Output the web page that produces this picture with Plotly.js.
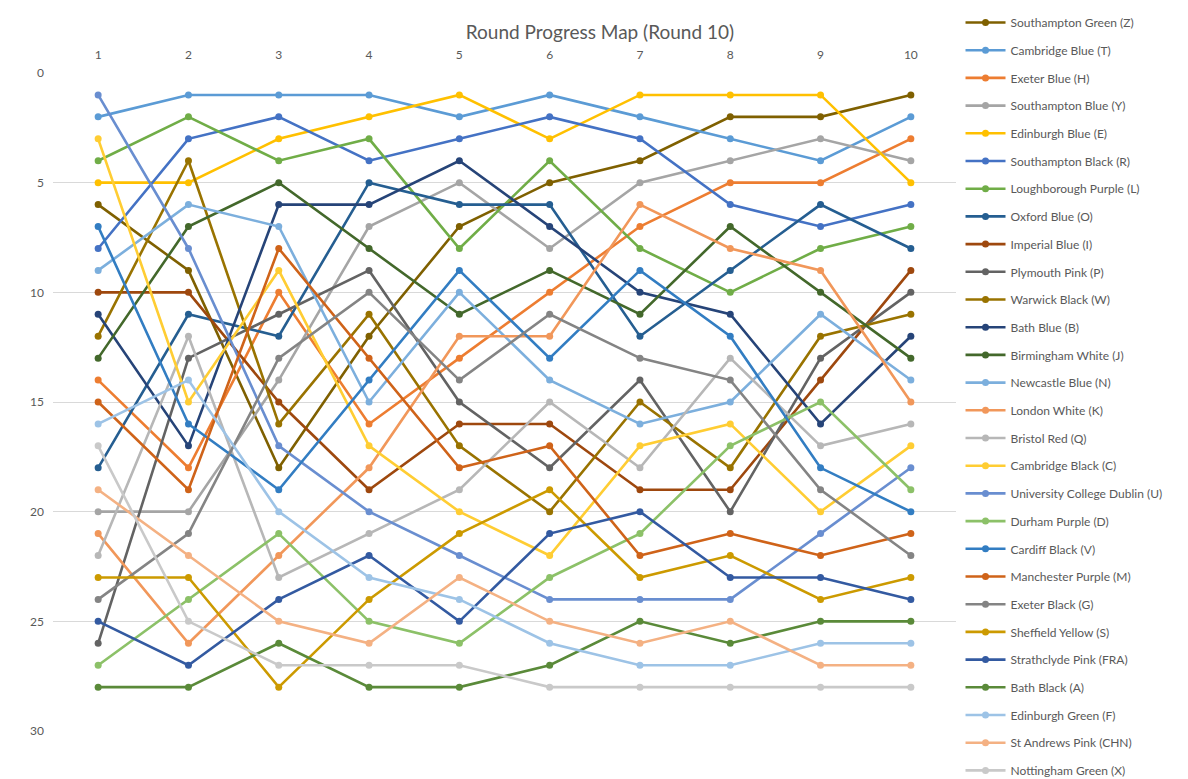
<!DOCTYPE html>
<html>
<head>
<meta charset="utf-8">
<script src="https://cdn.plot.ly/plotly-3.0.1.min.js"></script>
<style>html,body{margin:0;padding:0;background:#fff;}#chart{width:1188px;height:779px;}</style>
</head>
<body>
<div id="chart"></div>
<script>
// Rounds (x categories)
const rounds = [1, 2, 3, 4, 5, 6, 7, 8, 9, 10];

// Ranking per round for each team
const southamptonGreen   = [6, 9, 18, 12, 7, 5, 4, 2, 2, 1];
const cambridgeBlue      = [2, 1, 1, 1, 2, 1, 2, 3, 4, 2];
const exeterBlue         = [14, 18, 10, 16, 13, 10, 7, 5, 5, 3];
const southamptonBlue    = [20, 20, 14, 7, 5, 8, 5, 4, 3, 4];
const edinburghBlue      = [5, 5, 3, 2, 1, 3, 1, 1, 1, 5];
const southamptonBlack   = [8, 3, 2, 4, 3, 2, 3, 6, 7, 6];
const loughboroughPurple = [4, 2, 4, 3, 8, 4, 8, 10, 8, 7];
const oxfordBlue         = [18, 11, 12, 5, 6, 6, 12, 9, 6, 8];
const imperialBlue       = [10, 10, 15, 19, 16, 16, 19, 19, 14, 9];
const plymouthPink       = [26, 13, 11, 9, 15, 18, 14, 20, 13, 10];
const warwickBlack       = [12, 4, 16, 11, 17, 20, 15, 18, 12, 11];
const bathBlue           = [11, 17, 6, 6, 4, 7, 10, 11, 16, 12];
const birminghamWhite    = [13, 7, 5, 8, 11, 9, 11, 7, 10, 13];
const newcastleBlue      = [9, 6, 7, 15, 10, 14, 16, 15, 11, 14];
const londonWhite        = [21, 26, 22, 18, 12, 12, 6, 8, 9, 15];
const bristolRed         = [22, 12, 23, 21, 19, 15, 18, 13, 17, 16];
const cambridgeBlack     = [3, 15, 9, 17, 20, 22, 17, 16, 20, 17];
const ucd                = [1, 8, 17, 20, 22, 24, 24, 24, 21, 18];
const durhamPurple       = [27, 24, 21, 25, 26, 23, 21, 17, 15, 19];
const cardiffBlack       = [7, 16, 19, 14, 9, 13, 9, 12, 18, 20];
const manchesterPurple   = [15, 19, 8, 13, 18, 17, 22, 21, 22, 21];
const exeterBlack        = [24, 21, 13, 10, 14, 11, 13, 14, 19, 22];
const sheffieldYellow    = [23, 23, 28, 24, 21, 19, 23, 22, 24, 23];
const strathclydePink    = [25, 27, 24, 22, 25, 21, 20, 23, 23, 24];
const bathBlack          = [28, 28, 26, 28, 28, 27, 25, 26, 25, 25];
const edinburghGreen     = [16, 14, 20, 23, 24, 26, 27, 27, 26, 26];
const stAndrewsPink      = [19, 22, 25, 26, 23, 25, 26, 25, 27, 27];
const nottinghamGreen    = [17, 25, 27, 27, 27, 28, 28, 28, 28, 28];

const teamNames = [
  "Southampton Green (Z)", "Cambridge Blue (T)", "Exeter Blue (H)", "Southampton Blue (Y)",
  "Edinburgh Blue (E)", "Southampton Black (R)", "Loughborough Purple (L)", "Oxford Blue (O)",
  "Imperial Blue (I)", "Plymouth Pink (P)", "Warwick Black (W)", "Bath Blue (B)",
  "Birmingham White (J)", "Newcastle Blue (N)", "London White (K)", "Bristol Red (Q)",
  "Cambridge Black (C)", "University College Dublin (U)", "Durham Purple (D)", "Cardiff Black (V)",
  "Manchester Purple (M)", "Exeter Black (G)", "Sheffield Yellow (S)", "Strathclyde Pink (FRA)",
  "Bath Black (A)", "Edinburgh Green (F)", "St Andrews Pink (CHN)", "Nottingham Green (X)"
];
const teamRanks = [
  southamptonGreen, cambridgeBlue, exeterBlue, southamptonBlue, edinburghBlue, southamptonBlack,
  loughboroughPurple, oxfordBlue, imperialBlue, plymouthPink, warwickBlack, bathBlue,
  birminghamWhite, newcastleBlue, londonWhite, bristolRed, cambridgeBlack, ucd, durhamPurple,
  cardiffBlack, manchesterPurple, exeterBlack, sheffieldYellow, strathclydePink, bathBlack,
  edinburghGreen, stAndrewsPink, nottinghamGreen
];
const teamColors = [
  "#7F6000", "#5B9BD5", "#ED7D31", "#A5A5A5", "#FFC000", "#4472C4", "#70AD47", "#255E91",
  "#9E480E", "#636363", "#997300", "#264478", "#43682B", "#7CAFDD", "#F1975A", "#B7B7B7",
  "#FFCD33", "#698ED0", "#8CC168", "#327DC2", "#CF6319", "#848484", "#CC9A00", "#335AA1",
  "#5A8A39", "#9DC3E6", "#F4B183", "#C9C9C9"
];

const traces = teamNames.map((name, i) => ({
  type: "scatter",
  mode: "lines+markers",
  name: name,
  x: rounds,
  y: teamRanks[i],
  legendgroup: "g" + i,
  line: { color: teamColors[i], width: 2.6 },
  marker: { color: teamColors[i], size: 7, symbol: "circle" },
  hoverinfo: "name+x+y"
}));

const fontFam = "Lato, 'Open Sans', 'Liberation Sans', sans-serif";

const layout = {
  width: 1188,
  height: 779,
  margin: { l: 53, r: 232, t: 73, b: 48, autoexpand: false },
  paper_bgcolor: "#ffffff",
  plot_bgcolor: "#ffffff",
  font: { family: fontFam, color: "#595959", size: 12 },
  title: {
    text: "Round Progress Map (Round 10)",
    font: { family: fontFam, size: 19, color: "#595959" },
    xref: "container", x: 0.505, xanchor: "center",
    yref: "container", y: 0.958, yanchor: "middle"
  },
  xaxis: {
    side: "top",
    range: [0.5, 10.5],
    tickmode: "array",
    tickvals: rounds,
    ticktext: rounds.map(String),
    showgrid: false,
    zeroline: false,
    showline: false,
    ticks: "",
    ticklabelstandoff: 11,
    tickfont: { family: fontFam, size: 12, color: "#595959" }
  },
  yaxis: {
    autorange: false,
    range: [30, 0],
    tickmode: "array",
    tickvals: [0, 5, 10, 15, 20, 25, 30],
    showgrid: true,
    gridcolor: "#D9D9D9",
    gridwidth: 1,
    zeroline: false,
    showline: false,
    ticks: "",
    ticklabelstandoff: 8,
    tickfont: { family: fontFam, size: 12, color: "#595959" }
  },
  legend: {
    x: 1.005, xref: "paper", xanchor: "left",
    y: 0.9897, yref: "container", yanchor: "top",
    traceorder: "grouped",
    tracegroupgap: 8.7,
    maxheight: 779,
    itemwidth: 40,
    font: { family: fontFam, size: 12, color: "#595959" },
    bgcolor: "rgba(0,0,0,0)"
  },
  showlegend: true
};

Plotly.newPlot("chart", traces, layout, { displayModeBar: false, responsive: false });
</script>
</body>
</html>
